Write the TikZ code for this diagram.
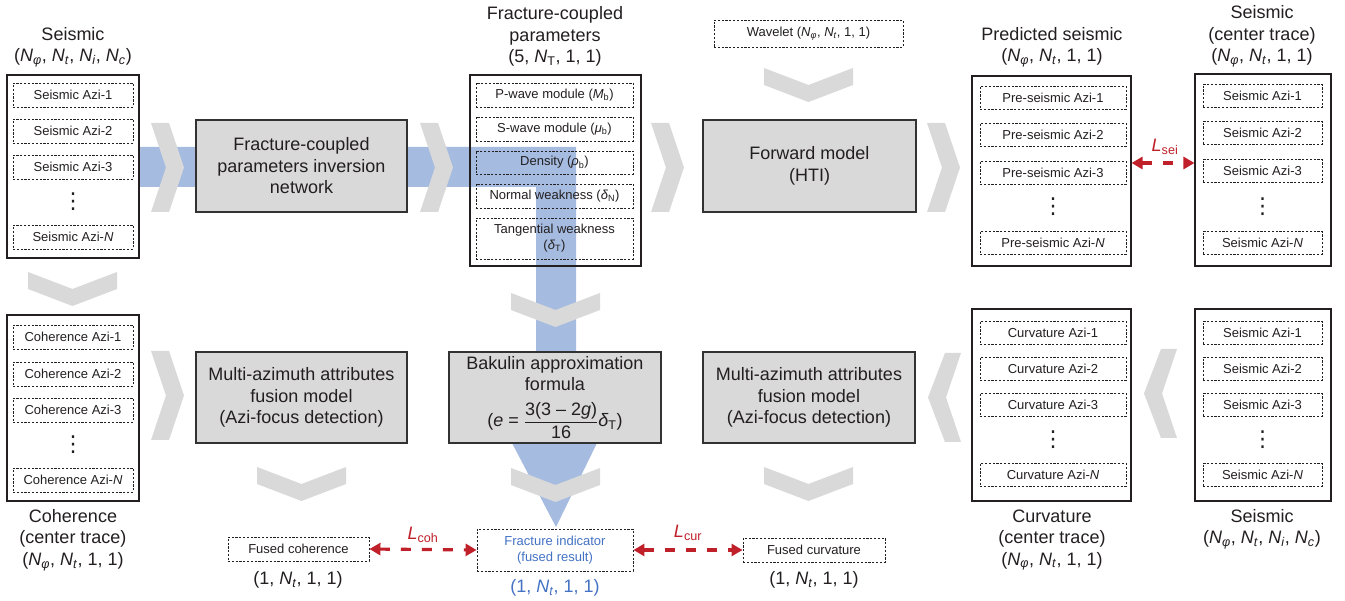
\documentclass[tikz,border=0pt]{standalone}
\usepackage{fontspec}
\setmainfont{Liberation Sans}
\newfontfamily\dejavu{DejaVu Sans}
\usetikzlibrary{arrows.meta}
\definecolor{bandblue}{RGB}{165,187,224}
\definecolor{chevgray}{RGB}{217,217,217}
\definecolor{boxgray}{RGB}{217,217,217}
\definecolor{boxline}{RGB}{50,50,50}
\definecolor{txt}{RGB}{35,31,32}
\definecolor{arrred}{RGB}{192,32,42}
\definecolor{txtblue}{RGB}{68,114,196}
\newcommand{\Nx}[1]{\textit{N}\textsubscript{\textit{#1}}}
\newcommand{\vdotz}{{\dejavu ⋮}}
\newcommand{\chevright}[2]{\fill[chev] (#1,#2) -- ++(18,0) -- ++(15,44.5) -- ++(-15,44.5) -- ++(-18,0) -- ++(15,-44.5) -- cycle;}
\newcommand{\chevleft}[2]{\fill[chev] (#1,#2) -- ++(-16,0) -- ++(-17,44.5) -- ++(17,44.5) -- ++(16,0) -- ++(-15,-44.5) -- cycle;}
\newcommand{\chevdown}[2]{\fill[chev] (#1,#2) -- ++(44.5,17) -- ++(44.5,-17) -- ++(0,17) -- ++(-44.5,17) -- ++(-44.5,-17) -- cycle;}
\begin{document}
\begin{tikzpicture}[x=1pt,y=-1pt,
  big/.style={font=\fontsize{18}{21.5}\selectfont, align=center, inner sep=0pt, text=txt},
  small/.style={font=\fontsize{13}{16}\selectfont, align=center, inner sep=0pt, text=txt},
  obox/.style={draw=txt, line width=1.1pt, inner sep=0pt},
  dbox/.style={small, draw=txt, line width=0.9pt, dash pattern=on 2.2pt off 1.6pt},
  gbox/.style={big, draw=boxline, fill=boxgray, line width=1.4pt},
  chev/.style={fill=chevgray},
  vd/.style={font=\fontsize{22}{22}\selectfont, inner sep=0pt, text=txt},
  srow/.style={dbox, minimum width=120pt, minimum height=24pt},
  prow/.style={dbox, minimum width=157pt},
  crow/.style={dbox, minimum width=146pt, minimum height=23pt},
  rrow/.style={dbox, minimum width=119pt, minimum height=23pt},
  redarr/.style={draw=arrred, line width=3.2pt, dash pattern=on 10pt off 11pt,
    {Triangle[length=11pt,width=12pt]}-{Triangle[length=11pt,width=12pt]}},
  llabel/.style={font=\fontsize{18}{20}\selectfont, text=arrred, inner sep=0pt}]
\useasboundingbox (0,0) rectangle (1345,601);
\fill[white] (0,0) rectangle (1345,601);
% blue band
\fill[bandblue] (139,147) -- (576,147) -- (576,352) -- (536,352) -- (536,187) -- (139,187) -- cycle;
\fill[bandblue] (512,443) -- (597,443) -- (556,527) -- cycle;
% chevrons
\chevright{151}{123}
\chevright{420}{123}
\chevright{651}{123}
\chevright{927}{123}
\chevright{151}{351}
\chevleft{961}{353}
\chevleft{1177}{349}
\chevdown{28}{272}
\chevdown{764}{68}
\chevdown{511}{293}
\chevdown{511}{468}
\chevdown{257}{467}
\chevdown{764}{467}
% titles
\node[big] (tSeisL) at (73,47) {Seismic\\(\Nx{φ}, \Nx{t}, \Nx{i}, \Nx{c})};
\node[big] (tParams) at (555,36.5) {Fracture-coupled\\parameters\\(5, \textit{N}\textsubscript{T}, 1, 1)};
\node[dbox, minimum width=189pt, minimum height=27pt] (wav) at (808.5,33.5) {Wavelet (\Nx{φ}, \Nx{t}, 1, 1)};
\node[big] (tPred) at (1052,47) {Predicted seismic\\(\Nx{φ}, \Nx{t}, 1, 1)};
\node[big] (tSeisC) at (1262,36.5) {Seismic\\(center trace)\\(\Nx{φ}, \Nx{t}, 1, 1)};
% left seismic
\node[obox, minimum width=132pt, minimum height=183pt] (seisL) at (73,166.5) {};
\node[srow] (sl1) at (73,95) {Seismic Azi-1};
\node[srow] (sl2) at (73,131) {Seismic Azi-2};
\node[srow] (sl3) at (73,167) {Seismic Azi-3};
\node[vd] (sld) at (73,202) {\vdotz};
\node[srow] (slN) at (73,237) {Seismic Azi-\textit{N}};
% coherence
\node[obox, minimum width=132pt, minimum height=186pt] (coh) at (73,408) {};
\node[srow] (c1) at (73,337) {Coherence Azi-1};
\node[srow] (c2) at (73,374) {Coherence Azi-2};
\node[srow] (c3) at (73,410) {Coherence Azi-3};
\node[vd] (cd) at (73,445) {\vdotz};
\node[srow] (cN) at (73,480) {Coherence Azi-\textit{N}};
\node[big] (tCoh) at (73,540) {Coherence\\(center trace)\\(\Nx{φ}, \Nx{t}, 1, 1)};
% params
\node[obox, minimum width=171pt, minimum height=191pt] (params) at (555.5,170.5) {};
\node[prow, minimum height=24pt] (p1) at (554.5,95) {P-wave module (\textit{M}\textsubscript{b})};
\node[prow, minimum height=24pt] (p2) at (554.5,129) {S-wave module (\textit{μ}\textsubscript{b})};
\node[prow, minimum height=23pt] (p3) at (554.5,162.5) {Density (\textit{ρ}\textsubscript{b})};
\node[prow, minimum height=24pt] (p4) at (554.5,196) {Normal weakness (\textit{δ}\textsubscript{N})};
\node[prow, minimum height=41pt] (p5) at (554.5,238.5) {Tangential weakness\\(\textit{δ}\textsubscript{T})};
% predicted
\node[obox, minimum width=159pt, minimum height=190pt] (pred) at (1051.5,171) {};
\node[crow] (pr1) at (1053,98) {Pre-seismic Azi-1};
\node[crow] (pr2) at (1053,135) {Pre-seismic Azi-2};
\node[crow] (pr3) at (1053,173) {Pre-seismic Azi-3};
\node[vd] (prd) at (1053,207) {\vdotz};
\node[crow] (prN) at (1053,243) {Pre-seismic Azi-\textit{N}};
% seismic center trace
\node[obox, minimum width=136pt, minimum height=192pt] (seisC) at (1263,170) {};
\node[rrow] (sc1) at (1262.5,96) {Seismic Azi-1};
\node[rrow] (sc2) at (1262.5,133) {Seismic Azi-2};
\node[rrow] (sc3) at (1262.5,171) {Seismic Azi-3};
\node[vd] (scd) at (1262.5,207) {\vdotz};
\node[rrow] (scN) at (1262.5,243) {Seismic Azi-\textit{N}};
% curvature
\node[obox, minimum width=159pt, minimum height=192pt] (curv) at (1051.5,405) {};
\node[crow] (cu1) at (1053,333) {Curvature Azi-1};
\node[crow] (cu2) at (1053,369) {Curvature Azi-2};
\node[crow] (cu3) at (1053,405) {Curvature Azi-3};
\node[vd] (cud) at (1053,440) {\vdotz};
\node[crow] (cuN) at (1053,475) {Curvature Azi-\textit{N}};
\node[big] (tCurv) at (1052,540) {Curvature\\(center trace)\\(\Nx{φ}, \Nx{t}, 1, 1)};
% seismic right
\node[obox, minimum width=136pt, minimum height=192pt] (seisR) at (1263,405) {};
\node[rrow] (sr1) at (1262.5,333) {Seismic Azi-1};
\node[rrow] (sr2) at (1262.5,369) {Seismic Azi-2};
\node[rrow] (sr3) at (1262.5,405) {Seismic Azi-3};
\node[vd] (srd) at (1262.5,440) {\vdotz};
\node[rrow] (srN) at (1262.5,475) {Seismic Azi-\textit{N}};
\node[big] (tSeisR) at (1262,529) {Seismic\\(\Nx{φ}, \Nx{t}, \Nx{i}, \Nx{c})};
% gray boxes
\node[gbox, minimum width=211pt, minimum height=92pt] (inv) at (301.5,166) {Fracture-coupled\\parameters inversion\\network};
\node[gbox, minimum width=213pt, minimum height=92pt] (fwd) at (809.5,166) {Forward model\\(HTI)};
\node[gbox, minimum width=211pt, minimum height=91pt] (mafL) at (301.5,397.5) {Multi-azimuth attributes\\fusion model\\(Azi-focus detection)};
\node[gbox, minimum width=212pt, minimum height=91pt] (bak) at (555,397.5) {Bakulin approximation\\formula\\[10pt](\textit{e} = $\displaystyle\frac{\mbox{3(3 – 2\textit{g})}}{\mbox{16}}$\textit{δ}\textsubscript{T})};
\node[gbox, minimum width=212pt, minimum height=91pt] (mafR) at (809,397.5) {Multi-azimuth attributes\\fusion model\\(Azi-focus detection)};
% bottom results
\node[dbox, minimum width=141pt, minimum height=24pt] (fCoh) at (298.5,549) {Fused coherence};
\node[dbox, minimum width=156pt, minimum height=42pt, text=txtblue] (frac) at (555,550) {Fracture indicator\\(fused result)};
\node[dbox, minimum width=142pt, minimum height=24pt] (fCur) at (814,550) {Fused curvature};
\node[big] (dCoh) at (298,580) {(1, \Nx{t}, 1, 1)};
\node[big, text=txtblue] (dFrac) at (555,588) {(1, \Nx{t}, 1, 1)};
\node[big] (dCur) at (814,580) {(1, \Nx{t}, 1, 1)};
% loss arrows
\draw[redarr] ([yshift=8pt]pred.east) -- ([yshift=7pt]seisC.west);
\node[llabel] (lsei) at (1165,147) {\textit{L}\textsubscript{sei}};
\draw[redarr] (fCoh.east) -- (frac.west);
\node[llabel] (lcoh) at (423,535) {\textit{L}\textsubscript{coh}};
\draw[redarr] (frac.east) -- (fCur.west);
\node[llabel] (lcur) at (688,533) {\textit{L}\textsubscript{cur}};
\end{tikzpicture}
\end{document}
